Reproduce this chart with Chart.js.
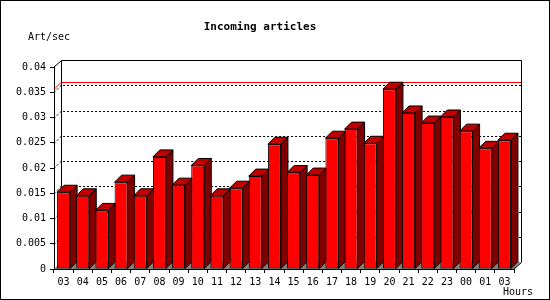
<!DOCTYPE html>
<html lang="en">
<head>
  <meta charset="UTF-8">
  <title>Incoming articles</title>
  <script src="https://cdn.jsdelivr.net/npm/chart.js"></script>
  <style>
    body { margin: 0; background: #fff; }
    canvas { display: block; }
  </style>
</head>
<body>
  <canvas id="chart" width="550" height="300"></canvas>

  <script>
    // hourly incoming article rate
    const hours = ['03', '04', '05', '06', '07', '08', '09', '10', '11', '12', '13', '14',
                   '15', '16', '17', '18', '19', '20', '21', '22', '23', '00', '01', '03'];
    const artPerSec = [0.0152, 0.0145, 0.0116, 0.0172, 0.0145, 0.0222, 0.0166, 0.0205,
                       0.0145, 0.0160, 0.0184, 0.0247, 0.0191, 0.0186, 0.0259, 0.0277,
                       0.0249, 0.0356, 0.0309, 0.0289, 0.0301, 0.0273, 0.0239, 0.0255];
    const yMin = 0, yMax = 0.04, yStep = 0.005;

    const titleText = 'Incoming articles';
    const yUnit = 'Art/sec';
    const xUnit = 'Hours';

    const DEPTH = 7;
    const mono = '"DejaVu Sans Mono", monospace';

    // draws the back wall, floor, grid and the 3d sides/tops of the bars
    const box3d = {
      id: 'box3d',
      beforeDatasetsDraw(chart) {
        const ctx = chart.ctx;
        const { left: L, right: R, top: T, bottom: B } = chart.chartArea;
        const y = chart.scales.y;
        const d = DEPTH;
        ctx.save();
        ctx.lineWidth = 1;

        // floor
        ctx.fillStyle = '#808080';
        ctx.beginPath();
        ctx.moveTo(L, B); ctx.lineTo(R, B); ctx.lineTo(R + d, B - d); ctx.lineTo(L + d, B - d);
        ctx.closePath();
        ctx.fill();

        // dotted grid on back wall
        ctx.strokeStyle = '#000';
        ctx.setLineDash([2, 2]);
        for (let v = yStep; v < yMax - 1e-9; v += yStep) {
          const py = Math.round(y.getPixelForValue(v) - d) + 0.5;
          ctx.beginPath();
          ctx.moveTo(L, py + d); ctx.lineTo(L + d, py);
          ctx.lineTo(R + d, py);
          ctx.stroke();
        }
        ctx.setLineDash([]);

        // max line
        const mx = Math.max(...artPerSec);
        const my = Math.round(y.getPixelForValue(mx) - d) + 0.5;
        ctx.strokeStyle = '#ff0000';
        ctx.beginPath();
        ctx.moveTo(L, my + d); ctx.lineTo(L + d, my); ctx.lineTo(R + d, my);
        ctx.stroke();

        // back wall frame
        const bl = Math.round(L + d) + 0.5, br = Math.round(R + d) + 0.5;
        const bt = Math.round(T - d) + 0.5, bb = Math.round(B - d) + 0.5;
        ctx.strokeStyle = '#000';
        ctx.beginPath();
        ctx.moveTo(bl, bb); ctx.lineTo(bl, bt); ctx.lineTo(br, bt); ctx.lineTo(br, bb);
        ctx.moveTo(L, T); ctx.lineTo(bl, bt);
        ctx.moveTo(R, B); ctx.lineTo(br, bb);
        ctx.stroke();

        // bar sides and tops
        chart.getDatasetMeta(0).data.forEach(bar => {
          const x0 = bar.x - bar.width / 2, x1 = bar.x + bar.width / 2;
          const top = bar.y, base = bar.base;
          ctx.fillStyle = '#800000';
          ctx.beginPath();
          ctx.moveTo(x1, top); ctx.lineTo(x1 + d, top - d); ctx.lineTo(x1 + d, base - d); ctx.lineTo(x1, base);
          ctx.closePath();
          ctx.fill(); ctx.stroke();
          ctx.fillStyle = '#c00000';
          ctx.beginPath();
          ctx.moveTo(x0, top); ctx.lineTo(x0 + d, top - d); ctx.lineTo(x1 + d, top - d); ctx.lineTo(x1, top);
          ctx.closePath();
          ctx.fill(); ctx.stroke();
        });
        ctx.restore();
      },
      afterDraw(chart) {
        const ctx = chart.ctx;
        ctx.save();
        ctx.fillStyle = '#000';
        ctx.textBaseline = 'middle';
        ctx.font = 'bold 11px ' + mono;
        ctx.textAlign = 'center';
        ctx.fillText(titleText, 260, 27);
        ctx.font = '10px ' + mono;
        ctx.textAlign = 'left';
        ctx.fillText(yUnit, 28, 37);
        ctx.fillText(xUnit, 503, 292);
        ctx.strokeStyle = '#000';
        ctx.lineWidth = 1;
        ctx.strokeRect(0.5, 0.5, 549, 299);
        ctx.restore();
      }
    };

    const ctx = document.getElementById('chart').getContext('2d');
    new Chart(ctx, {
      type: 'bar',
      data: {
        labels: hours,
        datasets: [{
          data: artPerSec,
          backgroundColor: '#ff0000',
          borderColor: '#000',
          borderWidth: 1,
          borderSkipped: false,
          categoryPercentage: 0.68,
          barPercentage: 1
        }]
      },
      options: {
        responsive: false,
        animation: false,
        devicePixelRatio: 1,
        layout: { padding: { top: 67, right: 36, left: 0, bottom: 0 } },
        plugins: {
          legend: { display: false },
          title: { display: false },
          tooltip: { enabled: false }
        },
        scales: {
          x: {
            offset: true,
            grid: { offset: true, drawOnChartArea: false, tickLength: 4, color: '#000' },
            border: { color: '#000' },
            ticks: {
              color: '#000', padding: 3, autoSkip: false, maxRotation: 0,
              font: { family: mono, size: 10 }
            },
            afterFit: s => { s.height = 31; }
          },
          y: {
            min: yMin,
            max: yMax,
            grid: { drawOnChartArea: false, tickLength: 4, color: '#000' },
            border: { color: '#000' },
            ticks: {
              stepSize: yStep, color: '#000', padding: 4,
              font: { family: mono, size: 10 },
              callback: v => String(Number(v.toFixed(4)))
            },
            afterFit: s => { s.width = 54; }
          }
        }
      },
      plugins: [box3d]
    });
  </script>
</body>
</html>
